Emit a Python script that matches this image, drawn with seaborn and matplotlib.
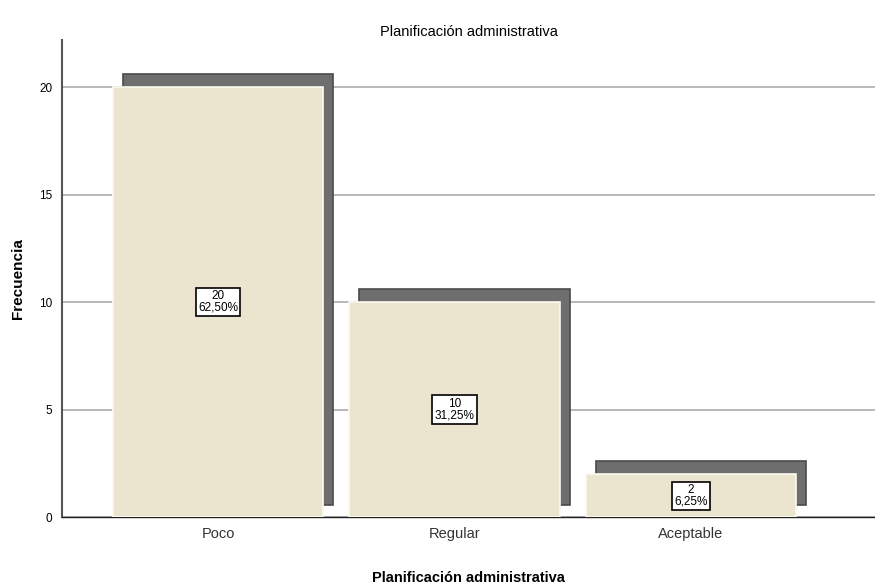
import matplotlib
matplotlib.use('Agg')
import matplotlib.pyplot as plt
from matplotlib.patches import Rectangle
import seaborn as sns
import pandas as pd

categorias = ['Poco', 'Regular', 'Aceptable']
frecuencias = [20, 10, 2]
porcentajes = ['62,50%', '31,25%', '6,25%']

df = pd.DataFrame({'cat': categorias, 'n': frecuencias})

sns.set_style('white')
plt.rcParams['font.family'] = ['Liberation Sans', 'DejaVu Sans']

fig = plt.figure(figsize=(8.75, 5.85), dpi=100)
ax = fig.add_axes([0.071, 0.116, 0.929, 0.816])

sns.barplot(data=df, x='cat', y='n', width=0.89, color='#ebe4cf', saturation=1,
            edgecolor='#fbf9f0', linewidth=1.2, zorder=3, ax=ax)

# sombra estilo SPSS detrás de cada barra
for p in list(ax.patches):
    sh = Rectangle((p.get_x() + 0.043, 0.55), p.get_width(), p.get_height() + 0.05,
                   facecolor='#6e6e6e', edgecolor='#4a4a4a', linewidth=1.2, zorder=2)
    ax.add_patch(sh)

for i, (v, pc) in enumerate(zip(frecuencias, porcentajes)):
    ax.text(i, v / 2, f'{v}\n{pc}', ha='center', va='center', fontsize=8.5,
            linespacing=0.95, zorder=5, color='black',
            bbox=dict(boxstyle='square,pad=0.2', facecolor='white', edgecolor='black', linewidth=1.2))

ax.set_xlim(-0.66, 2.78)
ax.set_ylim(0, 22.2)
ax.set_yticks([0, 5, 10, 15, 20])
ax.yaxis.grid(True, color='#ababab', linewidth=1.2, zorder=0)
ax.set_axisbelow(True)
ax.tick_params(axis='both', length=0)
ax.tick_params(axis='y', labelsize=8.5, pad=7, labelcolor='black')
ax.tick_params(axis='x', labelsize=10.5, labelcolor='#333333', pad=7)
for s in ['top', 'right']:
    ax.spines[s].set_visible(False)
ax.spines['left'].set_color('#555555')
ax.spines['left'].set_linewidth(1.5)
ax.spines['bottom'].set_color('#222222')
ax.spines['bottom'].set_linewidth(1.0)

ax.set_title('Planificación administrativa', fontsize=10.5, pad=3, color='black')
ax.set_xlabel('Planificación administrativa', fontsize=10.5, fontweight='bold',
              labelpad=22, color='black')
ax.set_ylabel('Frecuencia', fontsize=11, fontweight='bold', labelpad=10, color='black')

fig.savefig('out.png', dpi=100)
